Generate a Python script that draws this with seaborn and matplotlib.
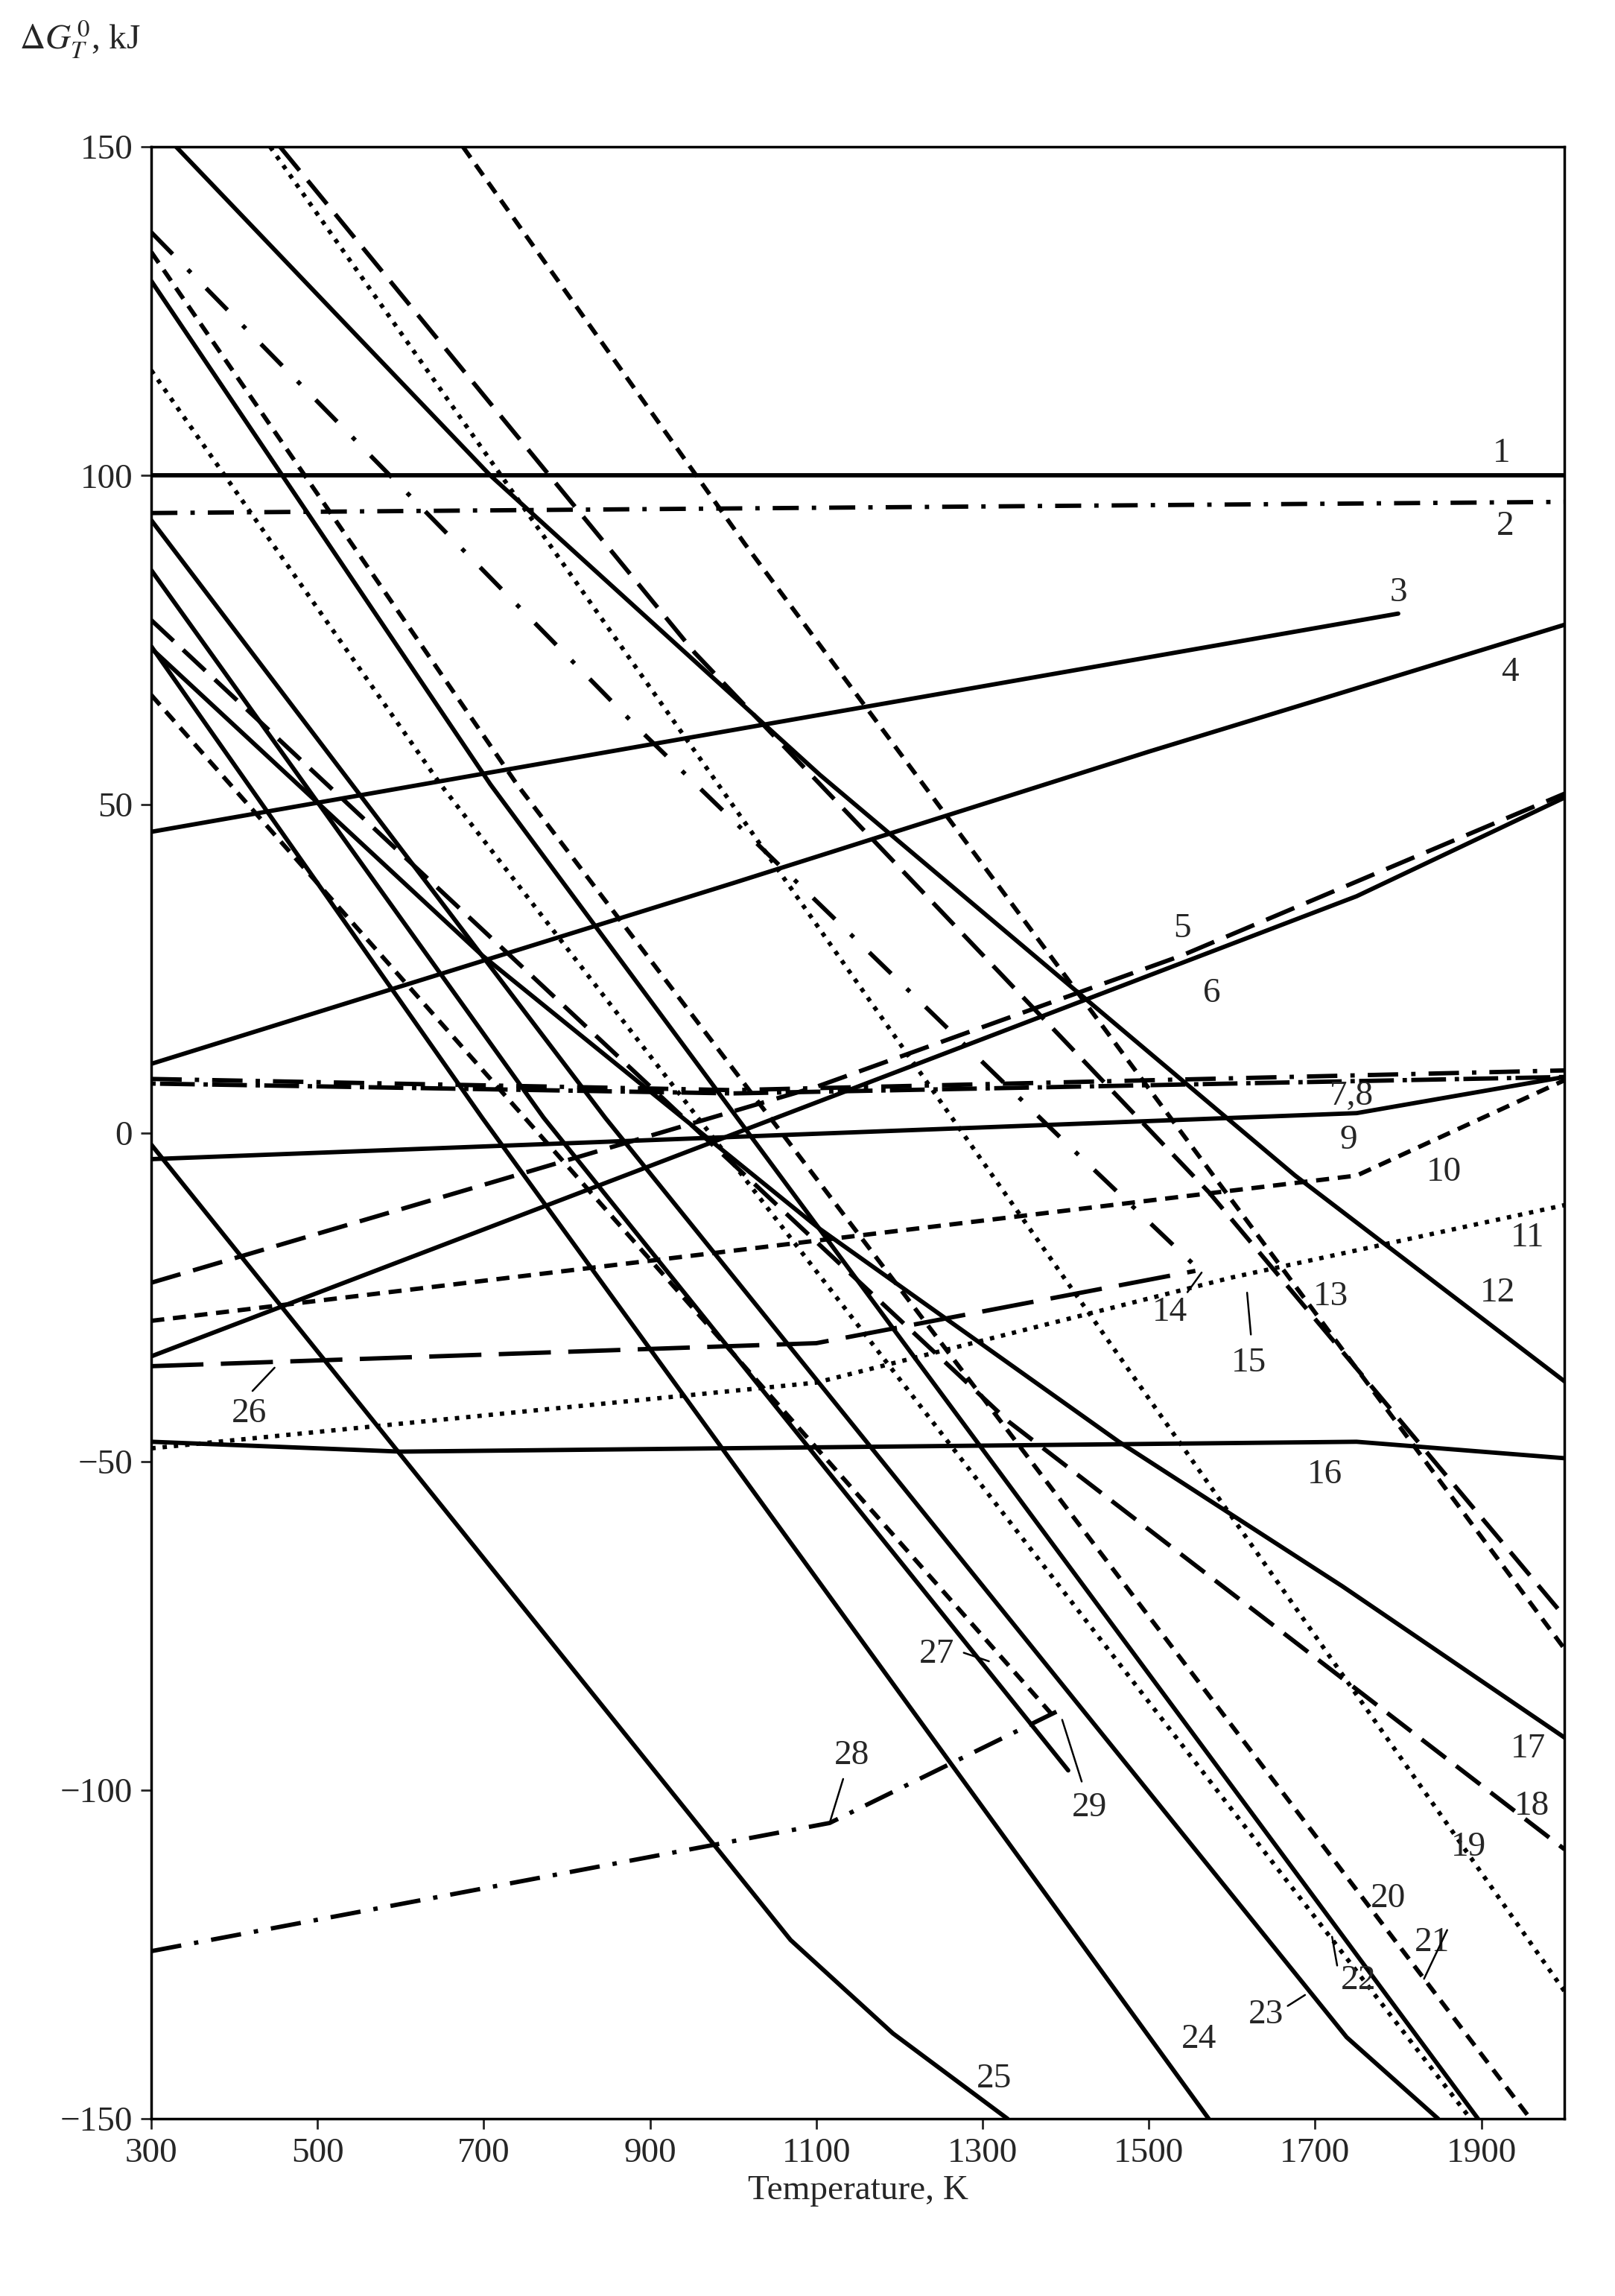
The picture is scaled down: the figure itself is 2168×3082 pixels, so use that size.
import numpy as np
import pandas as pd
import matplotlib
matplotlib.use('Agg')
import matplotlib.pyplot as plt
import seaborn as sns

# Curves: temperature (K) and Gibbs energy (kJ)
T1 = [300, 2000]; G1 = [100, 100]
T2 = [300, 2000]; G2 = [94.3, 96]
T3 = [300, 1800]; G3 = [45.8, 79]
T4 = [300, 1000, 1500, 2000]; G4 = [10.5, 38, 58, 77.3]
T5 = [300, 1100, 1540, 2000]; G5 = [-22.8, 7, 27, 51.6]
T6 = [300, 1750, 2000]; G6 = [-34, 36, 51]
T7 = [300, 1000, 2000]; G7 = [8.2, 6.5, 9.5]
T8 = [300, 1000, 2000]; G8 = [7.5, 6, 8.5]
T9 = [300, 1750, 2000]; G9 = [-4, 3, 8.5]
T10 = [300, 1750, 2000]; G10 = [-28.6, -6.5, 8]
T11 = [300, 1100, 1600, 2000]; G11 = [-48, -38, -22, -11]
T12 = [330, 708, 1104, 1676, 2000]; G12 = [150, 100, 54.5, -6.5, -37.8]
T13 = [675, 1014, 2000]; G13 = [150, 89.6, -78.5]
T14 = [300, 890, 1400, 1562]; G14 = [137, 61, -1.5, -21]
T15 = [455, 954, 1572, 2000]; G15 = [150, 73, -9, -73.6]
T16 = [300, 400, 600, 1750, 2000]; G16 = [-47, -47.5, -48.5, -47, -49.5]
T17 = [300, 698, 1104, 1464, 1733, 2000]; G17 = [73.7, 27, -14.6, -47, -69, -92]
T18 = [300, 1332, 2000]; G18 = [78, -44, -109]
T19 = [443, 982, 2000]; G19 = [150, 53, -130.6]
T20 = [300, 740, 1959]; G20 = [134, 53, -150]
T21 = [300, 708, 1896]; G21 = [129.6, 53, -150]
T22 = [300, 648, 1887]; G22 = [116, 53, -150]
T23 = [300, 846, 1738, 1848]; G23 = [93.2, 2.3, -137.6, -150]
T24 = [300, 698, 1572]; G24 = [74, 2.3, -150]
T25 = [300, 1069, 1192, 1330]; G25 = [-1.8, -122.8, -137, -150]
T26 = [300, 1100, 1556]; G26 = [-35.5, -32, -21]
T27 = [300, 1387]; G27 = [66.6, -89]
T28 = [300, 1116, 1390]; G28 = [-124.5, -105, -88]
T29 = [300, 772, 1403]; G29 = [85.6, 2.3, -97]

# label positions (T, G)
label_text = ['1', '2', '3', '4', '5', '6', '7,8', '9', '10', '11', '12', '13', '14', '15',
              '16', '17', '18', '19', '20', '21', '22', '23', '24', '25', '26', '27', '28', '29']
label_T = [1924, 1929, 1800, 1934, 1540, 1576, 1744, 1740, 1855, 1956, 1920, 1719, 1525, 1620,
           1712, 1956, 1961, 1885, 1788, 1841, 1752, 1641, 1560, 1314, 418, 1245, 1143, 1429]
label_G = [103.4, 92.3, 82.2, 70, 31, 21.2, 5.5, -1.2, -6, -16, -24.4, -25, -27.3, -35,
           -52, -93.7, -102.5, -108.7, -116.5, -123.2, -129, -134.2, -138, -144, -42.7, -79.4, -94.8, -102.7]

solid = '-'
dash = (0, (3, 2))
longdash = (0, (7, 3))
dot = (0, (1, 1.6))
dashdot = (0, (7, 3, 1, 3))

curves = [
    (T1, G1, solid), (T2, G2, (0, (6, 3, 1, 3))), (T3, G3, solid), (T4, G4, solid),
    (T5, G5, longdash), (T6, G6, solid), (T7, G7, dashdot), (T8, G8, (0, (1, 1, 8, 2))),
    (T9, G9, solid), (T10, G10, dash), (T11, G11, dot), (T12, G12, solid),
    (T13, G13, dash), (T14, G14, (0, (7, 5, 1, 5))), (T15, G15, longdash), (T16, G16, solid),
    (T17, G17, solid), (T18, G18, longdash), (T19, G19, dot), (T20, G20, dash),
    (T21, G21, solid), (T22, G22, dot), (T23, G23, solid), (T24, G24, solid),
    (T25, G25, solid), (T26, G26, (0, (12, 4))), (T27, G27, dash), (T28, G28, dashdot),
    (T29, G29, solid),
]

sns.set_style('white')
plt.rcParams['font.family'] = ['Liberation Serif', 'DejaVu Serif']
plt.rcParams['mathtext.fontset'] = 'stix'

fig = plt.figure(figsize=(21.68, 30.82), dpi=100)
ax = fig.add_axes([0.0937, 0.0772, 0.875, 0.8588])

for t, g, ls in curves:
    df = pd.DataFrame({'T': t, 'G': g})
    sns.lineplot(data=df, x='T', y='G', ax=ax, color='black', lw=4.2,
                 linestyle=ls, sort=False, estimator=None)

for s, t, g in zip(label_text, label_T, label_G):
    ax.text(t, g, s, fontsize=34, ha='center', va='center')

# leader strokes for crowded labels
leaders = [((1545, -24.5), (1565, -21)), ((1623, -31), (1618, -24)),
           ((1830, -129), (1860, -121)), ((1727, -127), (1720, -122)),
           ((1665, -133), (1690, -131)), ((420, -39.5), (450, -35.5)),
           ((1275, -79), (1310, -80.5)), ((1133, -98), (1116, -105)),
           ((1420, -99), (1395, -89))]
for (x0, y0), (x1, y1) in leaders:
    ax.annotate('', xy=(x1, y1), xytext=(x0, y0),
                arrowprops=dict(arrowstyle='-', color='black', lw=1.8))

ax.set_xlim(300, 2000)
ax.set_ylim(-150, 150)
ax.set_xticks(range(300, 2001, 200))
ax.set_yticks([-150, -100, -50, 0, 50, 100, 150])
ax.tick_params(axis='both', labelsize=34, direction='out', length=10, width=2,
               bottom=True, left=True, pad=8)
for sp in ax.spines.values():
    sp.set_linewidth(2.5)
    sp.set_color('black')
ax.set_xlabel('Temperature, K', fontsize=34, labelpad=6)
ax.set_ylabel('')
fig.text(0.012, 0.983, r'$\Delta G^{\,0}_{T}$, kJ', fontsize=34, ha='left', va='center')

fig.savefig('out.png', dpi=100, facecolor='white')
